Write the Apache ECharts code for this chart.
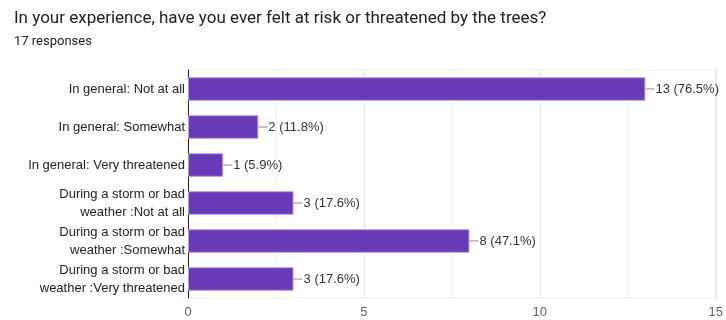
<!DOCTYPE html>
<html><head><meta charset="utf-8">
<script src="https://cdn.jsdelivr.net/npm/echarts@6/dist/echarts.min.js"></script>
<style>html,body{margin:0;padding:0;background:#fff}#c{width:726px;height:320px}</style>
</head><body><div id="c"></div>
<script>
var titleText = "In your experience, have you ever felt at risk or threatened by the trees?";
var subtitleText = "17 responses";
var totalResponses = 17;
var categories = [
  "In general: Not at all",
  "In general: Somewhat",
  "In general: Very threatened",
  "During a storm or bad\nweather :Not at all",
  "During a storm or bad\nweather :Somewhat",
  "During a storm or bad\nweather :Very threatened"
];
var values = [13, 2, 1, 3, 8, 3];
var xTicks = [0, 5, 10, 15];
var chartFont = "Arial, 'Liberation Sans', sans-serif";

var chart = echarts.init(document.getElementById('c'));
chart.setOption({
  animation: false,
  textStyle: {fontFamily: chartFont},
  title: [
    {text: titleText, left: 9, top: 5, textStyle: {fontSize: 17, fontWeight: 'normal', color: '#202124', fontFamily: 'Roboto'}},
    {text: subtitleText, left: 9, top: 30, textStyle: {fontSize: 13, fontWeight: 'normal', color: '#202124', fontFamily: 'Roboto'}}
  ],
  grid: {left: 188, right: 8, top: 70, bottom: 22, show: true, borderColor: '#ebebeb', borderWidth: 1},
  xAxis: {
    type: 'value', min: xTicks[0], max: xTicks[xTicks.length - 1], interval: 5,
    axisLine: {show: false}, axisTick: {show: false},
    axisLabel: {fontSize: 13, color: '#5f6368', margin: 8, fontFamily: chartFont},
    splitLine: {lineStyle: {color: '#e6e6e6'}},
    minorTick: {show: false, splitNumber: 2},
    minorSplitLine: {show: true, lineStyle: {color: '#f3f3f3'}}
  },
  yAxis: {
    type: 'category', data: categories, inverse: true,
    axisLine: {show: true, lineStyle: {color: '#222', width: 1}},
    axisTick: {show: false},
    axisLabel: {fontSize: 13, color: '#222', margin: 3, lineHeight: 18, align: 'right', fontFamily: chartFont}
  },
  series: [{
    type: 'bar', data: values, barCategoryGap: '38%',
    itemStyle: {color: '#673ab7', borderColor: '#b39ddb', borderWidth: 1},
    label: {
      show: true, position: 'right', distance: 0,
      formatter: function (p) {
        return '{l|}{t|' + p.value + ' (' + (p.value / totalResponses * 100).toFixed(1) + '%)}';
      },
      rich: {
        l: {width: 9, height: 1, backgroundColor: '#888'},
        t: {fontSize: 13, color: '#333', fontFamily: chartFont, padding: [0, 0, 0, 1]}
      }
    }
  }]
});
</script></body></html>
